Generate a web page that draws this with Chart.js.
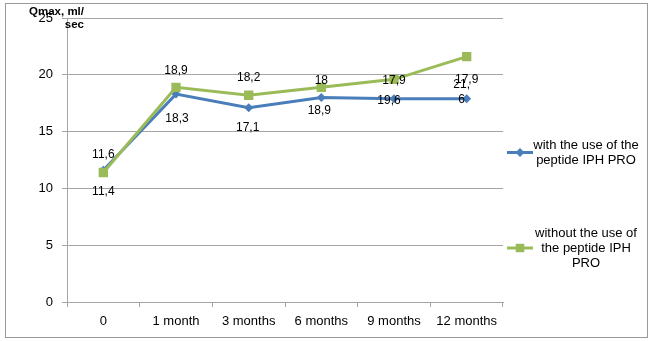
<!DOCTYPE html>
<html>
<head>
<meta charset="utf-8">
<script src="https://cdn.jsdelivr.net/npm/chart.js@4.4.0/dist/chart.umd.min.js"></script>
<style>
  html, body { margin: 0; padding: 0; background: #fff; }
  #wrap { position: relative; width: 660px; height: 341px; }
</style>
</head>
<body>
<div id="wrap"><canvas id="qmaxChart"></canvas></div>
<script>
const categories = ['0', '1 month', '3 months', '6 months', '9 months', '12 months'];
const withPeptide = [11.6, 18.3, 17.1, 18.0, 17.9, 17.9];
const withoutPeptide = [11.4, 18.9, 18.2, 18.9, 19.6, 21.6];
// label texts as printed on the original chart
const withLabels = ['11,6', '18,3', '17,1', '18,9', '19,6', ['21,', '6']];
const withoutLabels = ['11,4', '18,9', '18,2', '18', '17,9', '17,9'];
const yTicks = [0, 5, 10, 15, 20, 25];
const yTitleLines = ['Qmax, ml/', 'sec'];
const legendLines = [
    ['with the use of the', 'peptide IPH PRO'],
    ['without the use of', 'the peptide IPH', 'PRO']
];

const FONT = "'Liberation Sans', Arial, sans-serif";
const BLUE = '#4a7ebb';
const GREEN = '#9bbb59';
const GRID = '#a6a6a6';

const pointLabels = {
    id: 'pointLabels',
    afterDatasetsDraw(chart, args, opts) {
        const ctx = chart.ctx;
        ctx.save();
        ctx.font = '12px ' + FONT;
        ctx.fillStyle = '#000';
        ctx.textAlign = 'center';
        ctx.textBaseline = 'middle';
        opts.sets.forEach(set => {
            const meta = chart.getDatasetMeta(set.index);
            meta.data.forEach((pt, i) => {
                const txt = set.labels[i];
                const [dx, dy] = set.nudge[i];
                const lines = Array.isArray(txt) ? txt : [txt];
                const start = pt.y + dy - (lines.length - 1) * 7.5;
                lines.forEach((ln, k) => ctx.fillText(ln, pt.x + dx, start + k * 15));
            });
        });
        ctx.restore();
    }
};

const frameAndLegend = {
    id: 'frameAndLegend',
    beforeDraw(chart) {
        const ctx = chart.ctx;
        ctx.save();
        ctx.fillStyle = '#fff';
        ctx.fillRect(0, 0, chart.width, chart.height);
        ctx.strokeStyle = '#9a9a9a';
        ctx.lineWidth = 1;
        ctx.strokeRect(5.5, 3.5, 642, 334);
        ctx.restore();
    },
    afterDraw(chart) {
        const ctx = chart.ctx;
        ctx.save();
        // axis title
        ctx.font = 'bold 11.5px ' + FONT;
        ctx.fillStyle = '#000';
        ctx.textAlign = 'right';
        ctx.textBaseline = 'middle';
        yTitleLines.forEach((t, i) => ctx.fillText(t, 84, 12 + i * 12.5));

        // legend
        const entries = [
            { color: BLUE, style: 'rectRot', r: 4.5, y: 152.5 },
            { color: GREEN, style: 'rect', r: 6, y: 248 }
        ];
        ctx.font = '13px ' + FONT;
        ctx.textAlign = 'center';
        entries.forEach((e, i) => {
            ctx.strokeStyle = e.color;
            ctx.lineWidth = 3;
            ctx.beginPath();
            ctx.moveTo(507, e.y);
            ctx.lineTo(533, e.y);
            ctx.stroke();
            ctx.fillStyle = e.color;
            Chart.helpers.drawPoint(ctx, { pointStyle: e.style, radius: e.r, borderWidth: 0 }, 520, e.y);
            ctx.fillStyle = '#000';
            const lines = legendLines[i];
            const top = e.y - (lines.length - 1) * 7.5 - (i === 0 ? 0 : 0);
            lines.forEach((ln, k) => ctx.fillText(ln, 586, top + k * 15));
        });
        ctx.restore();
    }
};

const ctx = document.getElementById('qmaxChart').getContext('2d');
new Chart(ctx, {
    type: 'line',
    data: {
        labels: categories,
        datasets: [{
            label: 'with the use of the peptide IPH PRO',
            data: withPeptide,
            borderColor: BLUE,
            backgroundColor: BLUE,
            borderWidth: 3,
            pointStyle: 'rectRot',
            pointRadius: 4.5,
            pointBorderWidth: 0,
            tension: 0,
            order: 1
        }, {
            label: 'without the use of the peptide IPH PRO',
            data: withoutPeptide,
            borderColor: GREEN,
            backgroundColor: GREEN,
            borderWidth: 3,
            pointStyle: 'rect',
            pointRadius: 6.6,
            pointBorderWidth: 0,
            tension: 0,
            order: 0
        }]
    },
    options: {
        responsive: true,
        maintainAspectRatio: false,
        animation: false,
        layout: { padding: { left: 0, right: 157, top: 18, bottom: 0 } },
        scales: {
            x: {
                offset: true,
                grid: {
                    offset: true,
                    drawOnChartArea: false,
                    drawTicks: true,
                    tickLength: 5,
                    color: GRID
                },
                border: { display: true, color: GRID },
                ticks: {
                    color: '#000',
                    font: { family: FONT, size: 13 },
                    padding: 7,
                    maxRotation: 0
                },
                afterFit(scale) { scale.height = 39; }
            },
            y: {
                min: 0,
                max: 25,
                afterBuildTicks(scale) { scale.ticks = yTicks.map(v => ({ value: v })); },
                grid: { color: GRID, tickLength: 5, lineWidth: 1 },
                border: { display: true, color: GRID },
                ticks: {
                    color: '#000',
                    font: { family: FONT, size: 13 },
                    padding: 9
                },
                afterFit(scale) { scale.width = 67; }
            }
        },
        plugins: {
            legend: { display: false },
            tooltip: { enabled: false },
            pointLabels: {
                sets: [
                    { index: 0, labels: withLabels, nudge: [[0, -16], [1, 25], [-1, 20], [-2, 13], [-5, 2], [-5, -6]] },
                    { index: 1, labels: withoutLabels, nudge: [[0, 19], [0, -17], [0, -18], [0, -7], [0, 1], [0, 23]] }
                ]
            }
        }
    },
    plugins: [pointLabels, frameAndLegend]
});
</script>
</body>
</html>
